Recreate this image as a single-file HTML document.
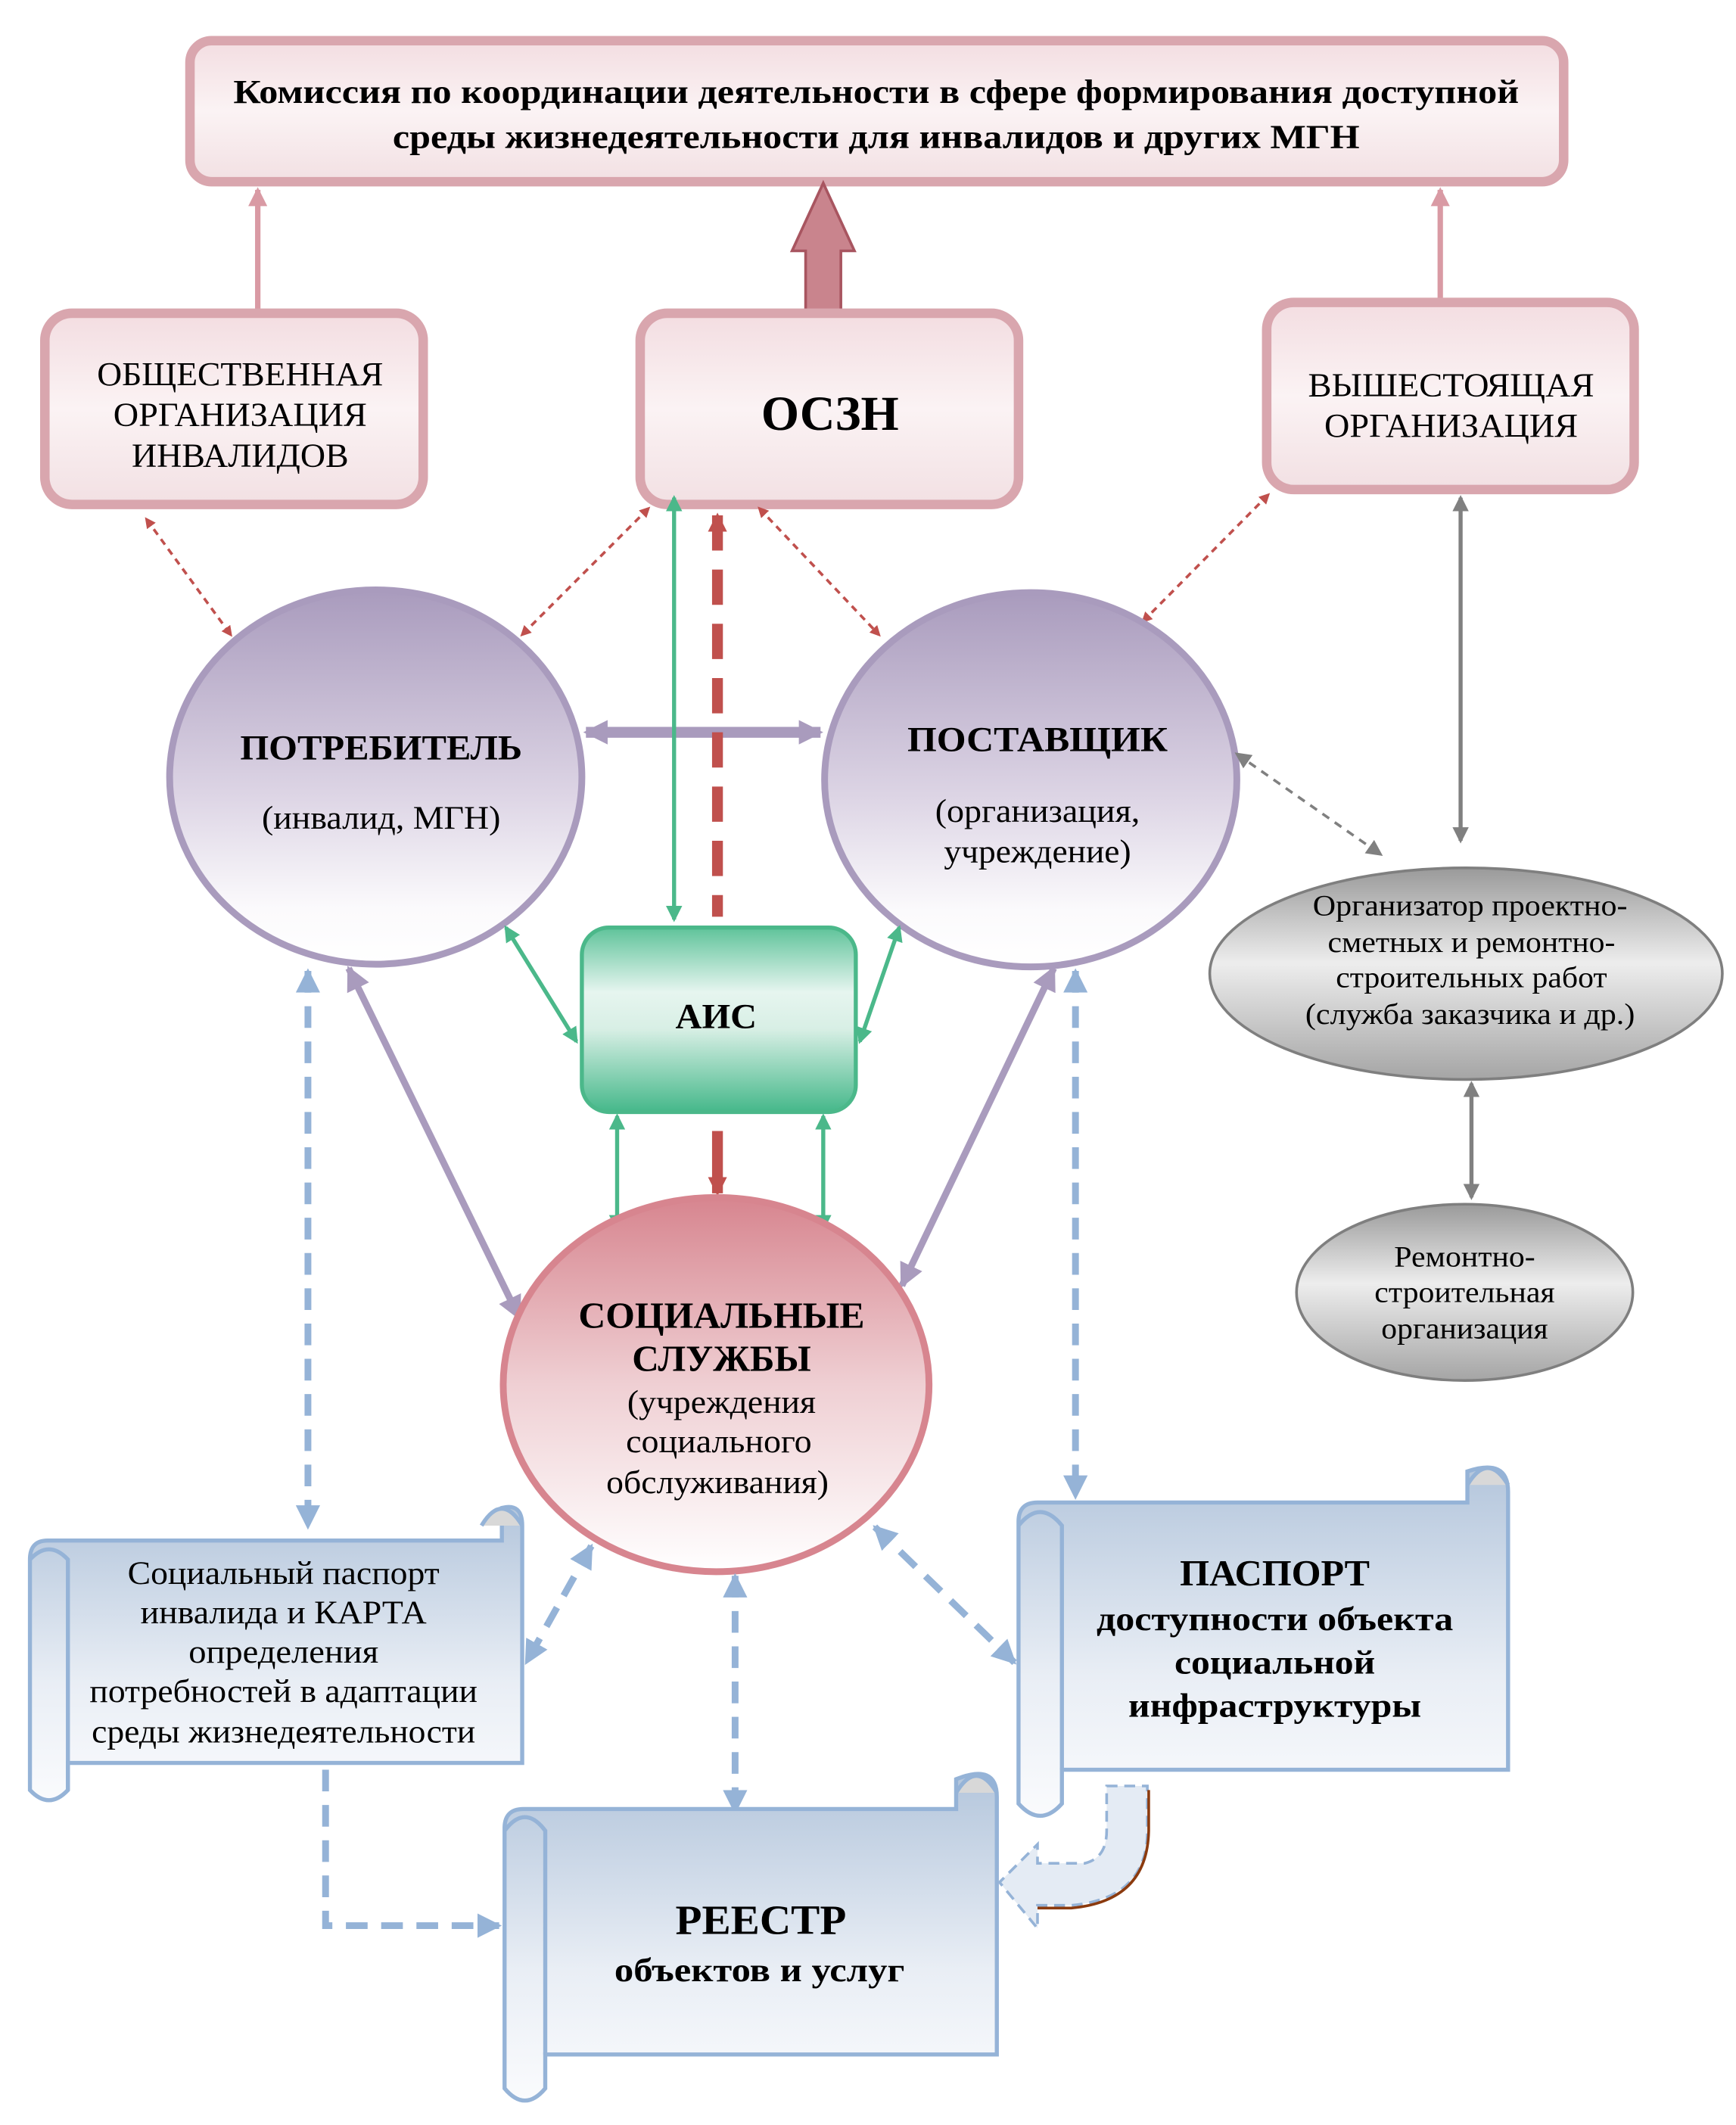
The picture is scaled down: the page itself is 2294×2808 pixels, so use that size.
<!DOCTYPE html>
<html><head><meta charset="utf-8"><style>html,body{margin:0;padding:0;background:#fff}svg{display:block}svg text{font-family:"Liberation Serif","Times New Roman",serif}</style></head>
<body>
<svg width="2294" height="2808" viewBox="0 0 1280 1567" xmlns="http://www.w3.org/2000/svg">
<defs>
<linearGradient id="pk" x1="0" y1="0" x2="0" y2="1"><stop offset="0" stop-color="#f3dde1"/><stop offset="0.5" stop-color="#fbf3f4"/><stop offset="1" stop-color="#f2e0e3"/></linearGradient>
<linearGradient id="pu" x1="0" y1="0" x2="0" y2="1"><stop offset="0" stop-color="#a99bbd"/><stop offset="0.55" stop-color="#ddd5e5"/><stop offset="0.85" stop-color="#fbfafc"/><stop offset="1" stop-color="#fff"/></linearGradient>
<linearGradient id="rd" x1="0" y1="0" x2="0" y2="1"><stop offset="0" stop-color="#d7858f"/><stop offset="0.5" stop-color="#efcfd3"/><stop offset="1" stop-color="#fff"/></linearGradient>
<linearGradient id="gr" x1="0" y1="0" x2="0" y2="1"><stop offset="0" stop-color="#5fc39a"/><stop offset="0.35" stop-color="#e6f5ef"/><stop offset="0.55" stop-color="#d8efe5"/><stop offset="1" stop-color="#45b88a"/></linearGradient>
<linearGradient id="gy" x1="0" y1="0" x2="0" y2="1"><stop offset="0" stop-color="#9a9a9a"/><stop offset="0.45" stop-color="#ededed"/><stop offset="1" stop-color="#a5a5a5"/></linearGradient>
<linearGradient id="bl" x1="0" y1="0" x2="0" y2="1"><stop offset="0" stop-color="#b4c6dc"/><stop offset="0.6" stop-color="#e9eef5"/><stop offset="1" stop-color="#fafbfd"/></linearGradient>
<marker id="mr" markerWidth="8" markerHeight="8" refX="6" refY="4" orient="auto-start-reverse" markerUnits="userSpaceOnUse"><path d="M0,0 L8,4 L0,8 Z" fill="#c0504d"/></marker>
<marker id="mr2" markerWidth="14" markerHeight="14" refX="12" refY="7" orient="auto-start-reverse" markerUnits="userSpaceOnUse"><path d="M0,0 L14,7 L0,14 Z" fill="#c0504d"/></marker>
<marker id="mg" markerWidth="12" markerHeight="12" refX="10" refY="6" orient="auto-start-reverse" markerUnits="userSpaceOnUse"><path d="M0,0 L12,6 L0,12 Z" fill="#4bb88a"/></marker>
<marker id="mp" markerWidth="18" markerHeight="18" refX="16" refY="9" orient="auto-start-reverse" markerUnits="userSpaceOnUse"><path d="M0,0 L18,9 L0,18 Z" fill="#a99bbd"/></marker>
<marker id="mgy" markerWidth="12" markerHeight="12" refX="10" refY="6" orient="auto-start-reverse" markerUnits="userSpaceOnUse"><path d="M0,0 L12,6 L0,12 Z" fill="#808080"/></marker>
<marker id="mb" markerWidth="18" markerHeight="18" refX="16" refY="9" orient="auto-start-reverse" markerUnits="userSpaceOnUse"><path d="M0,0 L18,9 L0,18 Z" fill="#95b3d7"/></marker>
<marker id="mpk" markerWidth="14" markerHeight="14" refX="12" refY="7" orient="auto-start-reverse" markerUnits="userSpaceOnUse"><path d="M0,0 L14,7 L0,14 Z" fill="#d99aa4"/></marker>
</defs>

<rect x="140" y="30" width="1013" height="104" rx="16" fill="url(#pk)" stroke="#d9a6ae" stroke-width="7"/>
<g lengthAdjust="spacingAndGlyphs">
<text x="646" y="76" text-anchor="middle" font-size="25" font-weight="bold" textLength="948" lengthAdjust="spacingAndGlyphs">Комиссия по координации деятельности в сфере формирования доступной</text>
<text x="646" y="109" text-anchor="middle" font-size="25" font-weight="bold" textLength="713" lengthAdjust="spacingAndGlyphs">среды жизнедеятельности для инвалидов и других МГН</text>
</g>

<line x1="190" y1="230" x2="190" y2="140" stroke="#d99aa4" stroke-width="4" marker-end="url(#mpk)"/>
<line x1="1062" y1="220" x2="1062" y2="140" stroke="#d99aa4" stroke-width="4" marker-end="url(#mpk)"/>
<path d="M594,232 L594,185 L584,185 L607,135 L630,185 L620,185 L620,232 Z" fill="#c9848d" stroke="#a85560" stroke-width="2"/>

<rect x="33" y="231" width="279" height="141" rx="20" fill="url(#pk)" stroke="#d9a6ae" stroke-width="7"/>
<text x="177" y="284" text-anchor="middle" font-size="25" textLength="211" lengthAdjust="spacingAndGlyphs">ОБЩЕСТВЕННАЯ</text>
<text x="177" y="314" text-anchor="middle" font-size="25" textLength="187" lengthAdjust="spacingAndGlyphs">ОРГАНИЗАЦИЯ</text>
<text x="177" y="344" text-anchor="middle" font-size="25" textLength="160" lengthAdjust="spacingAndGlyphs">ИНВАЛИДОВ</text>

<rect x="472" y="231" width="279" height="141" rx="20" fill="url(#pk)" stroke="#d9a6ae" stroke-width="7"/>
<text x="612" y="317" text-anchor="middle" font-size="36" font-weight="bold">ОСЗН</text>

<rect x="934" y="223" width="271" height="138" rx="20" fill="url(#pk)" stroke="#d9a6ae" stroke-width="7"/>
<text x="1070" y="292" text-anchor="middle" font-size="25" textLength="211" lengthAdjust="spacingAndGlyphs">ВЫШЕСТОЯЩАЯ</text>
<text x="1070" y="322" text-anchor="middle" font-size="25" textLength="187" lengthAdjust="spacingAndGlyphs">ОРГАНИЗАЦИЯ</text>

<g stroke="#c0504d" stroke-width="2" stroke-dasharray="5,4" fill="none">
<line x1="108" y1="383" x2="170" y2="468" marker-start="url(#mr)" marker-end="url(#mr)"/>
<line x1="478" y1="375" x2="385" y2="468" marker-start="url(#mr)" marker-end="url(#mr)"/>
<line x1="560" y1="375" x2="648" y2="468" marker-start="url(#mr)" marker-end="url(#mr)"/>
<line x1="935" y1="365" x2="843" y2="458" marker-start="url(#mr)" marker-end="url(#mr)"/>
</g>

<ellipse cx="277" cy="573" rx="152" ry="138" fill="url(#pu)" stroke="#a99bbd" stroke-width="5"/>
<text x="281" y="560" text-anchor="middle" font-size="26" font-weight="bold" textLength="208" lengthAdjust="spacingAndGlyphs">ПОТРЕБИТЕЛЬ</text>
<text x="281" y="611" text-anchor="middle" font-size="24" textLength="176" lengthAdjust="spacingAndGlyphs">(инвалид, МГН)</text>

<ellipse cx="760" cy="575" rx="152" ry="138" fill="url(#pu)" stroke="#a99bbd" stroke-width="5"/>
<text x="765" y="554" text-anchor="middle" font-size="26" font-weight="bold" textLength="192" lengthAdjust="spacingAndGlyphs">ПОСТАВЩИК</text>
<text x="765" y="606" text-anchor="middle" font-size="24" textLength="151" lengthAdjust="spacingAndGlyphs">(организация,</text>
<text x="765" y="636" text-anchor="middle" font-size="24" textLength="138" lengthAdjust="spacingAndGlyphs">учреждение)</text>

<line x1="432" y1="540" x2="605" y2="540" stroke="#a99bbd" stroke-width="8" marker-start="url(#mp)" marker-end="url(#mp)"/>

<line x1="497" y1="367" x2="497" y2="678" stroke="#4bb88a" stroke-width="3" marker-start="url(#mg)" marker-end="url(#mg)"/>
<line x1="529" y1="380" x2="529" y2="676" stroke="#c0504d" stroke-width="8" stroke-dasharray="26,14" marker-start="url(#mr2)"/>
<line x1="529" y1="834" x2="529" y2="880" stroke="#c0504d" stroke-width="8" marker-end="url(#mr2)"/>

<rect x="429" y="684" width="202" height="136" rx="20" fill="url(#gr)" stroke="#4bb88a" stroke-width="3"/>
<text x="528" y="758" text-anchor="middle" font-size="26" font-weight="bold" textLength="60" lengthAdjust="spacingAndGlyphs">АИС</text>

<g stroke="#4bb88a" stroke-width="3">
<line x1="373" y1="684" x2="425" y2="768" marker-start="url(#mg)" marker-end="url(#mg)"/>
<line x1="663" y1="684" x2="634" y2="768" marker-start="url(#mg)" marker-end="url(#mg)"/>
<line x1="455" y1="823" x2="455" y2="906" marker-start="url(#mg)" marker-end="url(#mg)"/>
<line x1="607" y1="823" x2="607" y2="906" marker-start="url(#mg)" marker-end="url(#mg)"/>
</g>

<line x1="257" y1="714" x2="383" y2="972" stroke="#a99bbd" stroke-width="5" marker-start="url(#mp)" marker-end="url(#mp)"/>
<line x1="777" y1="714" x2="665" y2="948" stroke="#a99bbd" stroke-width="5" marker-start="url(#mp)" marker-end="url(#mp)"/>

<ellipse cx="528" cy="1021" rx="157" ry="138" fill="url(#rd)" stroke="#d7858f" stroke-width="5"/>
<text x="532" y="979" text-anchor="middle" font-size="27" font-weight="bold" textLength="211" lengthAdjust="spacingAndGlyphs">СОЦИАЛЬНЫЕ</text>
<text x="532" y="1011" text-anchor="middle" font-size="27" font-weight="bold" textLength="132" lengthAdjust="spacingAndGlyphs">СЛУЖБЫ</text>
<text x="532" y="1042" text-anchor="middle" font-size="24" textLength="139" lengthAdjust="spacingAndGlyphs">(учреждения</text>
<text x="530" y="1071" text-anchor="middle" font-size="24" textLength="137" lengthAdjust="spacingAndGlyphs">социального</text>
<text x="529" y="1101" text-anchor="middle" font-size="24" textLength="164" lengthAdjust="spacingAndGlyphs">обслуживания)</text>

<line x1="1077" y1="367" x2="1077" y2="620" stroke="#808080" stroke-width="3" marker-start="url(#mgy)" marker-end="url(#mgy)"/>
<line x1="912" y1="556" x2="1018" y2="630" stroke="#808080" stroke-width="2" stroke-dasharray="6,5" marker-start="url(#mgy)" marker-end="url(#mgy)"/>
<ellipse cx="1081" cy="718" rx="189" ry="78" fill="url(#gy)" stroke="#7f7f7f" stroke-width="2"/>
<text x="1084" y="675" text-anchor="middle" font-size="22" textLength="232" lengthAdjust="spacingAndGlyphs">Организатор проектно-</text>
<text x="1085" y="702" text-anchor="middle" font-size="22" textLength="212" lengthAdjust="spacingAndGlyphs">сметных и ремонтно-</text>
<text x="1085" y="728" text-anchor="middle" font-size="22" textLength="200" lengthAdjust="spacingAndGlyphs">строительных работ</text>
<text x="1084" y="755" text-anchor="middle" font-size="22" textLength="243" lengthAdjust="spacingAndGlyphs">(служба заказчика и др.)</text>
<line x1="1085" y1="799" x2="1085" y2="883" stroke="#808080" stroke-width="3" marker-start="url(#mgy)" marker-end="url(#mgy)"/>
<ellipse cx="1080" cy="953" rx="124" ry="65" fill="url(#gy)" stroke="#7f7f7f" stroke-width="2"/>
<text x="1080" y="934" text-anchor="middle" font-size="22" textLength="104" lengthAdjust="spacingAndGlyphs">Ремонтно-</text>
<text x="1080" y="960" text-anchor="middle" font-size="22" textLength="133" lengthAdjust="spacingAndGlyphs">строительная</text>
<text x="1080" y="987" text-anchor="middle" font-size="22" textLength="123" lengthAdjust="spacingAndGlyphs">организация</text>

<g stroke="#95b3d7" stroke-width="5" stroke-dasharray="16,10" fill="none">
<line x1="227" y1="716" x2="227" y2="1126" marker-start="url(#mb)" marker-end="url(#mb)"/>
<line x1="793" y1="716" x2="793" y2="1104" marker-start="url(#mb)" marker-end="url(#mb)"/>
<line x1="436" y1="1140" x2="388" y2="1226" marker-start="url(#mb)" marker-end="url(#mb)"/>
<line x1="542" y1="1162" x2="542" y2="1336" marker-start="url(#mb)" marker-end="url(#mb)"/>
<line x1="645" y1="1126" x2="748" y2="1226" marker-start="url(#mb)" marker-end="url(#mb)"/>
<path d="M240,1305 L240,1420 L368,1420" marker-end="url(#mb)"/>
</g>

<g stroke="#95b3d7" stroke-width="3">
<path d="M35,1136 L370,1136 L370,1112 Q385,1108 385,1125 L385,1300 L50,1300 L50,1320 Q36,1335 22,1320 L22,1150 Q22,1136 35,1136 Z" fill="url(#bl)"/>
<path d="M22,1150 Q36,1135 50,1150 L50,1320" fill="none"/>
<path d="M355,1125 Q370,1100 385,1125" fill="#d8d8d8"/>
</g>
<text x="209" y="1168" text-anchor="middle" font-size="24" textLength="230" lengthAdjust="spacingAndGlyphs">Социальный паспорт</text>
<text x="209" y="1197" text-anchor="middle" font-size="24" textLength="211" lengthAdjust="spacingAndGlyphs">инвалида и КАРТА</text>
<text x="209" y="1226" text-anchor="middle" font-size="24" textLength="140" lengthAdjust="spacingAndGlyphs">определения</text>
<text x="209" y="1255" text-anchor="middle" font-size="24" textLength="286" lengthAdjust="spacingAndGlyphs">потребностей в адаптации</text>
<text x="209" y="1285" text-anchor="middle" font-size="24" textLength="283" lengthAdjust="spacingAndGlyphs">среды жизнедеятельности</text>

<g stroke="#95b3d7" stroke-width="3">
<path d="M765,1108 L1082,1108 L1082,1085 Q1112,1075 1112,1100 L1112,1305 L783,1305 L783,1330 Q767,1348 751,1330 L751,1122 Q751,1108 765,1108 Z" fill="url(#bl)"/>
<path d="M751,1125 Q767,1105 783,1125 L783,1305" fill="none"/>
<path d="M1082,1095 Q1097,1070 1112,1095" fill="#d8d8d8"/>
</g>
<text x="940" y="1169" text-anchor="middle" font-size="27" font-weight="bold" textLength="140" lengthAdjust="spacingAndGlyphs">ПАСПОРТ</text>
<text x="940" y="1202" text-anchor="middle" font-size="25" font-weight="bold" textLength="263" lengthAdjust="spacingAndGlyphs">доступности объекта</text>
<text x="940" y="1234" text-anchor="middle" font-size="25" font-weight="bold" textLength="148" lengthAdjust="spacingAndGlyphs">социальной</text>
<text x="940" y="1266" text-anchor="middle" font-size="25" font-weight="bold" textLength="216" lengthAdjust="spacingAndGlyphs">инфраструктуры</text>

<g stroke="#95b3d7" stroke-width="3">
<path d="M386,1334 L705,1334 L705,1312 Q735,1300 735,1325 L735,1515 L402,1515 L402,1540 Q387,1558 372,1540 L372,1348 Q372,1334 386,1334 Z" fill="url(#bl)"/>
<path d="M372,1350 Q387,1330 402,1350 L402,1515" fill="none"/>
<path d="M705,1322 Q720,1297 735,1322" fill="#d8d8d8"/>
</g>
<text x="561" y="1426" text-anchor="middle" font-size="31" font-weight="bold" textLength="126" lengthAdjust="spacingAndGlyphs">РЕЕСТР</text>
<text x="560" y="1461" text-anchor="middle" font-size="25" font-weight="bold" textLength="214" lengthAdjust="spacingAndGlyphs">объектов и услуг</text>

<path d="M816,1317 L846,1317 L846,1350 Q846,1400 790,1405 L765,1405 L765,1422 L737,1388 L765,1360 L765,1374 L800,1374 Q816,1370 816,1350 Z" fill="#e4ebf4" stroke="#95b3d7" stroke-width="2" stroke-dasharray="8,5"/>
<path d="M847,1320 L847,1350 Q846,1402 790,1407 L765,1407" fill="none" stroke="#8b3a0e" stroke-width="2"/>
</svg>
</body></html>
